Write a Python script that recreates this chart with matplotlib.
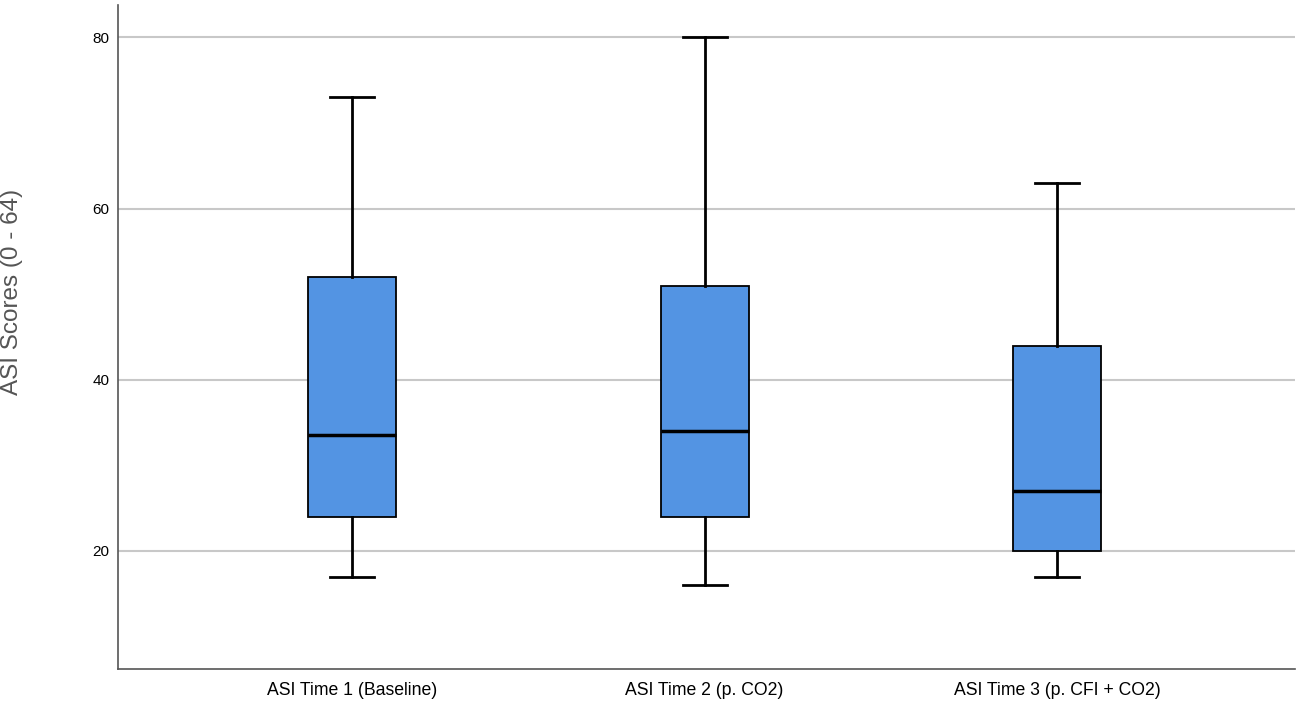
import matplotlib
matplotlib.use("Agg")
import matplotlib.pyplot as plt

plt.rcParams['font.family'] = ['Liberation Sans', 'DejaVu Sans']

labels = ["ASI Time 1 (Baseline)", "ASI Time 2 (p. CO2)", "ASI Time 3 (p. CFI + CO2)"]
whisker_low = [17, 16, 17]
q1 = [24, 24, 20]
median = [33.5, 34, 27]
q3 = [52, 51, 44]
whisker_high = [73, 80, 63]

stats = []
for i in range(len(labels)):
    stats.append(dict(label=labels[i], whislo=whisker_low[i], q1=q1[i], med=median[i],
                      q3=q3[i], whishi=whisker_high[i], fliers=[]))

fig = plt.figure(figsize=(12.99, 7.06), dpi=100)
ax = fig.add_axes([0.0908, 0.0524, 0.906, 0.9406])

ax.bxp(stats, positions=[1, 2, 3], widths=0.25, patch_artist=True, showfliers=False,
       boxprops=dict(facecolor='#5394E3', edgecolor='black', linewidth=1.3),
       medianprops=dict(color='black', linewidth=2.5),
       whiskerprops=dict(color='black', linewidth=2),
       capprops=dict(color='black', linewidth=2),
       capwidths=0.125)

ax.set_xlim(0.335, 3.675)
ax.set_ylim(6.2, 83.8)
ax.set_yticks([20, 40, 60, 80])
ax.yaxis.grid(True, color='#c8c8c8', linewidth=1.5)
ax.set_axisbelow(True)

for s in ['top', 'right']:
    ax.spines[s].set_visible(False)
for s in ['left', 'bottom']:
    ax.spines[s].set_color('#555555')
    ax.spines[s].set_linewidth(1.2)

ax.tick_params(axis='both', length=0)
ax.tick_params(axis='y', labelsize=11, pad=6)
ax.tick_params(axis='x', labelsize=12.7, pad=9)
ax.set_ylabel("ASI Scores (0 - 64)", fontsize=17.5, color='#555555', va='center')
ax.yaxis.set_label_coords(-0.090, 0.568)

fig.savefig("out.png", dpi=100)
